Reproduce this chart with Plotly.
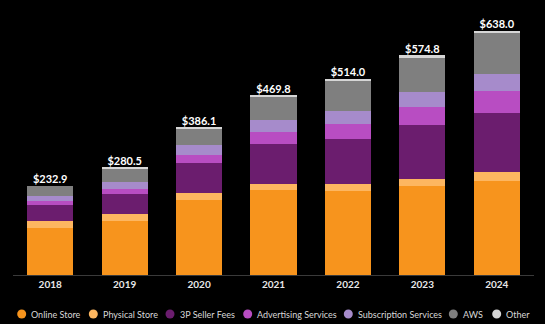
import plotly.graph_objects as go

years = ["2018", "2019", "2020", "2021", "2022", "2023", "2024"]
online_store = [122.99, 141.25, 197.35, 222.08, 220.00, 231.87, 247.03]
physical_store = [17.22, 17.19, 16.23, 17.08, 18.96, 20.03, 21.22]
seller_fees = [42.75, 53.76, 80.46, 103.37, 117.72, 140.05, 156.15]
advertising = [10.11, 12.63, 19.77, 31.16, 37.74, 46.91, 56.21]
subscription = [14.17, 19.21, 25.21, 31.77, 35.22, 40.21, 44.37]
aws = [25.66, 35.03, 45.37, 62.20, 80.10, 90.76, 107.56]
other = [0.0, 1.43, 1.71, 2.18, 4.25, 4.96, 5.47]
totals = [232.9, 280.5, 386.1, 469.8, 514.0, 574.8, 638.0]

series = [
    ("Online Store", online_store, "#F7941D"),
    ("Physical Store", physical_store, "#FDB660"),
    ("3P Seller Fees", seller_fees, "#6B1D6E"),
    ("Advertising Services", advertising, "#B84DC2"),
    ("Subscription Services", subscription, "#A68BCB"),
    ("AWS", aws, "#7F7F7F"),
    ("Other", other, "#D6D6D6"),
]

W, H = 545, 324
M = dict(l=13, r=11, t=12, b=49)
plot_w = W - M["l"] - M["r"]
plot_h = H - M["t"] - M["b"]

fig = go.Figure()
for name, vals, color in series:
    fig.add_trace(go.Bar(
        x=years, y=vals, name=name, marker_color=color,
        marker_line_width=0, showlegend=False,
    ))

fig.add_trace(go.Scatter(
    x=years, y=totals, mode="text",
    text=[f"${v:.1f}" for v in totals],
    textposition="top center",
    textfont=dict(family="Lato", size=11, color="#FFFFFF", weight="bold"),
    showlegend=False, cliponaxis=False,
))

# hand-laid legend row with round swatches (pixel x of each swatch centre)
legend_px = [21.7, 93.3, 170.0, 247.7, 348.3, 453.3, 496.7]
legend_py = 314
shapes, annotations = [], []
for (name, _, color), px in zip(series, legend_px):
    xp = (px - M["l"]) / plot_w
    yp = (H - M["b"] - legend_py) / plot_h
    shapes.append(dict(
        type="circle", xref="paper", yref="paper",
        xsizemode="pixel", ysizemode="pixel", xanchor=xp, yanchor=yp,
        x0=-4.5, x1=4.5, y0=-4.5, y1=4.5,
        fillcolor=color, line_width=0,
    ))
    annotations.append(dict(
        text=name, xref="paper", yref="paper", x=xp, y=yp,
        xanchor="left", yanchor="middle", xshift=7.5, showarrow=False,
        font=dict(family="Lato", size=9, color="#D8D8D8"),
    ))

fig.update_layout(
    barmode="stack",
    bargap=0.38,
    width=W, height=H,
    paper_bgcolor="#000000",
    plot_bgcolor="#000000",
    margin=M,
    showlegend=False,
    font=dict(family="Lato", color="#FFFFFF"),
    xaxis=dict(
        showgrid=False, showline=True, linecolor="#3A3A3A", linewidth=1,
        ticks="", tickfont=dict(family="Lato", size=10, color="#E8E8E8", weight="bold"),
    ),
    yaxis=dict(visible=False, range=[0, 688], showgrid=False),
    shapes=shapes,
    annotations=annotations,
)

fig.write_html("out.html")
